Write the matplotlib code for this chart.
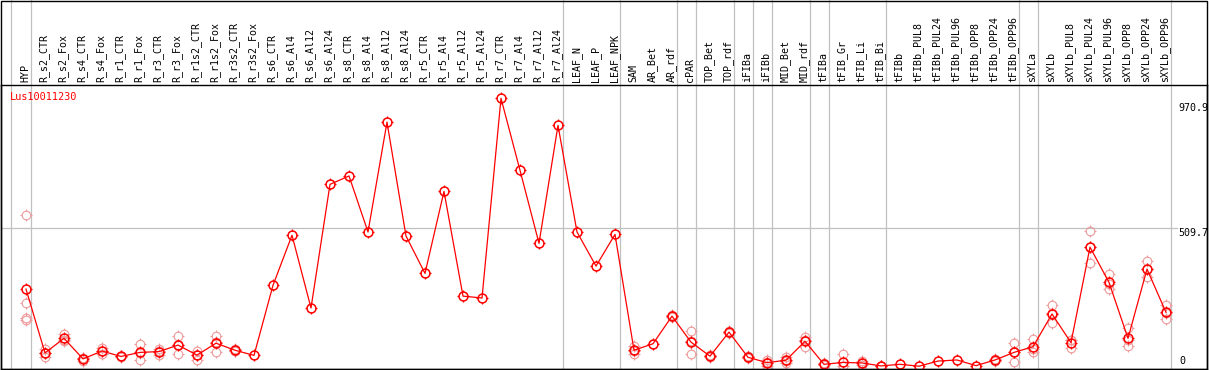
import numpy as np
import matplotlib
matplotlib.use('Agg')
import matplotlib.pyplot as plt
from matplotlib.path import Path
from matplotlib.patches import Rectangle

# sample labels
labels = ['HYP', 'R_s2_CTR', 'R_s2_Fox', 'R_s4_CTR', 'R_s4_Fox', 'R_r1_CTR', 'R_r1_Fox',
          'R_r3_CTR', 'R_r3_Fox', 'R_r1s2_CTR', 'R_r1s2_Fox', 'R_r3s2_CTR', 'R_r3s2_Fox',
          'R_s6_CTR', 'R_s6_Al4', 'R_s6_Al12', 'R_s6_Al24', 'R_s8_CTR', 'R_s8_Al4',
          'R_s8_Al12', 'R_s8_Al24', 'R_r5_CTR', 'R_r5_Al4', 'R_r5_Al12', 'R_r5_Al24',
          'R_r7_CTR', 'R_r7_Al4', 'R_r7_Al12', 'R_r7_Al24', 'LEAF_N', 'LEAF_P', 'LEAF_NPK',
          'SAM', 'AR_Bet', 'AR_rdf', 'cPAR', 'TOP_Bet', 'TOP_rdf', 'iFIBa', 'iFIBb',
          'MID_Bet', 'MID_rdf', 'tFIBa', 'tFIB_Gr', 'tFIB_Li', 'tFIB_Bi', 'tFIBb',
          'tFIBb_PUL8', 'tFIBb_PUL24', 'tFIBb_PUL96', 'tFIBb_OPP8', 'tFIBb_OPP24',
          'tFIBb_OPP96', 'sXYLa', 'sXYLb', 'sXYLb_PUL8', 'sXYLb_PUL24', 'sXYLb_PUL96',
          'sXYLb_OPP8', 'sXYLb_OPP24', 'sXYLb_OPP96']

# mean expression per sample
means = [285, 49, 103, 27, 56, 36, 51, 54, 78, 41, 85, 59, 40,
         299, 484, 215, 672, 703, 496, 902, 481, 343, 646, 259, 252,
         990, 724, 454, 890, 496, 370, 487,
         59, 83, 185, 89, 37, 126, 33, 13, 22, 92,
         7, 14, 12, 1, 7, 0, 19, 23, 2, 23, 51,
         72, 193, 87, 440, 310, 103, 359, 199]

# replicate values (empty where not shown)
reps = [[559, 232, 177, 171], [62, 50, 34], [118, 98, 93], [31, 32, 18], [66, 58, 44],
        [38, 36, 35], [81, 48, 24], [62, 58, 42], [112, 78, 44], [57, 42, 24],
        [113, 88, 54], [62, 58, 57], [],
        [], [], [], [], [], [], [], [], [], [], [], [], [], [], [], [], [], [], [],
        [75, 56, 46], [], [190, 185, 180], [129, 94, 44], [40, 36, 35],
        [130, 126, 122], [36, 33, 30], [24, 14, 1], [35, 20, 11], [107, 97, 72],
        [10, 7, 4], [44, 1, 0], [20, 10, 6], [2, 1, 0], [], [], [], [], [],
        [26, 22, 21], [85, 51, 17], [100, 62, 54], [226, 195, 158], [97, 95, 68],
        [500, 440, 380], [340, 305, 285], [140, 95, 75], [389, 358, 331],
        [226, 198, 173]]

gene = 'Lus10011230'
ytick_vals = [970.9, 509.7]

# group separators (placed just after these sample indices)
sep_after = [-1.05, 0, 28, 31, 34, 35, 37, 38, 39, 41, 42, 45, 52, 53, 60]

W, H = 1209, 370
fig = plt.figure(figsize=(W / 100, H / 100), dpi=100)
ax = fig.add_axes([1 / W, 1 / H, 1206 / W, 284 / H])
ax.set_xlim(-1.316, 62.158)
ax.set_ylim(-10.35, 1039.2)
ax.set_xticks([])
ax.set_yticks([])
for s in ax.spines.values():
    s.set_linewidth(1.0)

# small tick stubs around the circle markers
stub_r = 1.3
stubs = Path([(0, 1), (0, stub_r), (0, -1), (0, -stub_r), (1, 0), (stub_r, 0), (-1, 0), (-stub_r, 0)],
             [Path.MOVETO, Path.LINETO] * 4)

top_ext = 1 + 85 / 284
for s in sep_after:
    ax.axvline(s + 0.25, ymin=0, ymax=top_ext, color='#c0c0c0', lw=0.9, clip_on=False, zorder=1)
ax.axhline(509.7, xmin=0, xmax=0.975, color='#c0c0c0', lw=0.9, zorder=1)

x = np.arange(len(labels))
ms_rep = 6.2
for i, r in enumerate(reps):
    if r:
        ax.plot([i] * len(r), r, linestyle='none', marker='o', ms=ms_rep, mfc='none',
                mec='#ee9a9a', mew=0.8, zorder=2)
        ax.plot([i] * len(r), r, linestyle='none', marker=stubs, ms=ms_rep * stub_r,
                mec='#ee9a9a', mew=0.8, zorder=2)

ms_mean = 6.4
ax.plot(x, means, color='red', lw=0.9, marker='o', ms=ms_mean, mfc='none', mec='red',
        mew=1.1, zorder=3)
ax.plot(x, means, linestyle='none', marker=stubs, ms=ms_mean * stub_r, mec='red',
        mew=0.9, zorder=3)

mono = 'DejaVu Sans Mono'
xt = ax.get_xaxis_transform()
for i, lab in enumerate(labels):
    ax.text(i - 0.05, 1 + 3 / 284, lab, transform=xt, rotation=90, ha='center', va='bottom',
            fontsize=7.2, family=mono, clip_on=False)

for v in ytick_vals:
    ax.text(60.63, v, str(v), ha='left', va='top', fontsize=7.2, family=mono)
ax.text(60.68, 0, '0', ha='left', va='bottom', fontsize=7.2, family=mono)

ax.text(8.5 / 1206, 1 - 7 / 284, gene, transform=ax.transAxes, ha='left', va='top',
        color='red', fontsize=7.4, family=mono)

fig.add_artist(Rectangle((0.5 / W, 1 / H), 1206.5 / W, (H - 1.5) / H, transform=fig.transFigure,
                         fill=False, lw=1.0, ec='black'))

fig.savefig('out.png', dpi=100)
